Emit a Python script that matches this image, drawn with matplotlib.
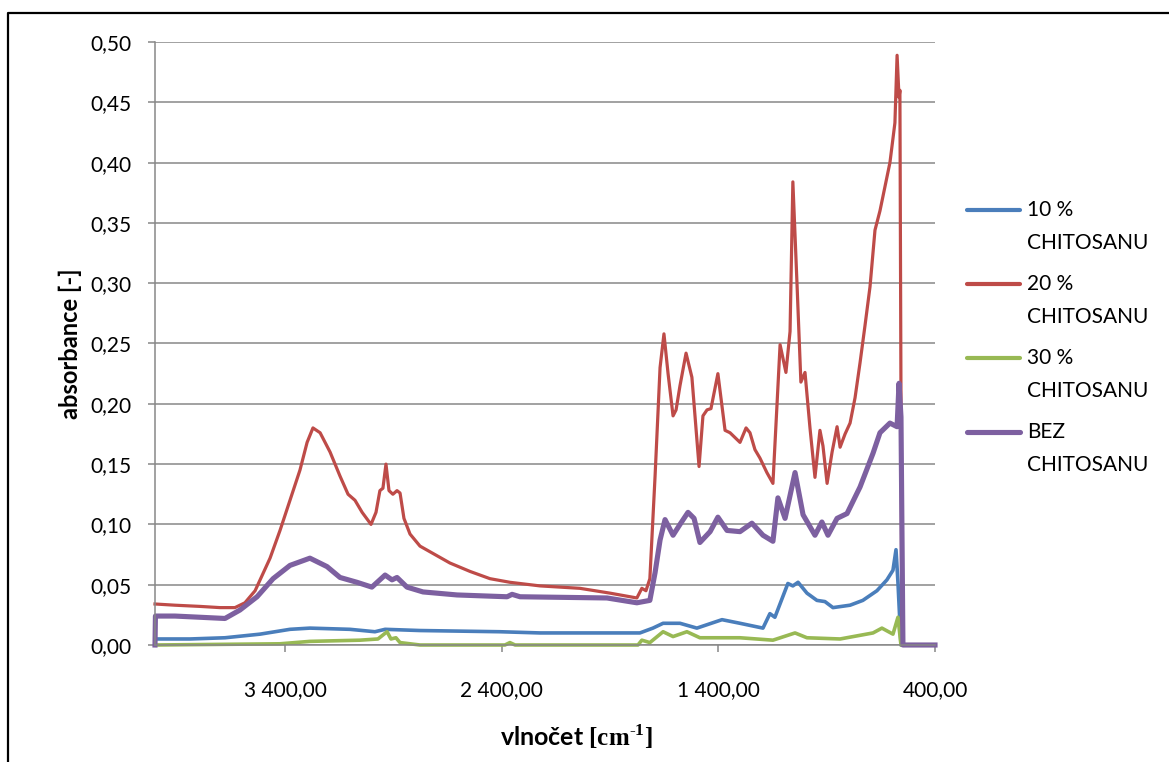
import matplotlib
matplotlib.use("Agg")
import matplotlib.pyplot as plt
from matplotlib.lines import Line2D
from matplotlib.ticker import FuncFormatter

plt.rcParams['font.family'] = ['Lato', 'DejaVu Sans']
plt.rcParams['mathtext.fontset'] = 'custom'
plt.rcParams['mathtext.rm'] = 'Liberation Serif'
plt.rcParams['mathtext.bf'] = 'Liberation Serif:bold'

# --- data (wavenumber cm-1 -> absorbance) ---
wn_10 = [4000, 3838, 3677, 3515, 3377, 3285, 3100, 2985, 2938, 2777, 2408, 2223,
         1762, 1702, 1655, 1577, 1499, 1383, 1300, 1194, 1162, 1139, 1079, 1056,
         1032, 991, 945, 908, 871, 792, 733, 668, 622, 594, 580, 571, 557, 400]
abs_10 = [0.005, 0.005, 0.006, 0.009, 0.013, 0.014, 0.013, 0.011, 0.013, 0.012, 0.011, 0.010,
          0.010, 0.014, 0.018, 0.018, 0.014, 0.021, 0.018, 0.014, 0.026, 0.023, 0.051, 0.049,
          0.052, 0.043, 0.037, 0.036, 0.031, 0.033, 0.037, 0.045, 0.054, 0.062, 0.079, 0.052, 0.0, 0.0]

wn_20 = [4000, 3908, 3792, 3700, 3631, 3585, 3538, 3469, 3423, 3377, 3331, 3298, 3271,
         3238, 3192, 3146, 3109, 3077, 3044, 3003, 2980, 2962, 2948, 2934, 2920, 2902,
         2883, 2869, 2851, 2823, 2777, 2708, 2639, 2546, 2454, 2362, 2223, 2039, 1900,
         1776, 1753, 1734, 1716, 1692, 1669, 1651, 1632, 1609, 1595, 1577, 1549, 1522,
         1489, 1471, 1452, 1434, 1402, 1369, 1346, 1323, 1300, 1272, 1254, 1231, 1208,
         1176, 1148, 1129, 1115, 1088, 1069, 1056, 1037, 1019, 1000, 977, 954, 931, 917,
         898, 875, 852, 838, 815, 792, 769, 746, 723, 700, 677, 654, 631, 608, 594, 585,
         575, 566, 562, 553, 400]
abs_20 = [0.034, 0.033, 0.032, 0.031, 0.031, 0.035, 0.045, 0.072, 0.095, 0.120, 0.145, 0.168, 0.180,
          0.176, 0.160, 0.140, 0.125, 0.120, 0.110, 0.100, 0.110, 0.128, 0.130, 0.150, 0.128, 0.125,
          0.128, 0.126, 0.105, 0.092, 0.082, 0.075, 0.068, 0.061, 0.055, 0.052, 0.049, 0.047, 0.043,
          0.039, 0.047, 0.045, 0.055, 0.140, 0.230, 0.258, 0.225, 0.190, 0.195, 0.215, 0.242, 0.222,
          0.148, 0.190, 0.195, 0.196, 0.225, 0.178, 0.176, 0.172, 0.168, 0.180, 0.176, 0.162, 0.155,
          0.143, 0.134, 0.200, 0.249, 0.226, 0.260, 0.384, 0.300, 0.218, 0.226, 0.180, 0.139, 0.178, 0.165,
          0.134, 0.160, 0.181, 0.164, 0.175, 0.184, 0.205, 0.234, 0.265, 0.297, 0.344, 0.360, 0.380, 0.400, 0.420, 0.433,
          0.489, 0.454, 0.460, 0.0, 0.0]

wn_30 = [4000, 3423, 3285, 3054, 2971, 2943, 2929, 2911, 2888, 2869, 2777, 2385, 2362, 2338,
         1771, 1753, 1716, 1655, 1609, 1545, 1485, 1300, 1148, 1046, 991, 838, 686, 645,
         594, 571, 557, 400]
abs_30 = [0.0, 0.001, 0.003, 0.004, 0.005, 0.009, 0.011, 0.005, 0.006, 0.002, 0.0, 0.0, 0.002, 0.0,
          0.0, 0.004, 0.002, 0.011, 0.007, 0.011, 0.006, 0.006, 0.004, 0.010, 0.006, 0.005, 0.010, 0.014,
          0.009, 0.023, 0.0, 0.0]

wn_bez = [4000, 3998, 3908, 3792, 3677, 3608, 3529, 3455, 3377, 3285, 3206, 3146, 3068, 2999,
          2938, 2906, 2883, 2837, 2763, 2606, 2375, 2352, 2315, 1914, 1776, 1716, 1692, 1669,
          1646, 1609, 1577, 1540, 1512, 1485, 1438, 1402, 1360, 1300, 1245, 1194, 1148, 1125,
          1092, 1046, 1009, 954, 922, 894, 852, 806, 746, 686, 654, 608, 575, 566, 557, 548, 400]
abs_bez = [0.0, 0.024, 0.024, 0.023, 0.022, 0.029, 0.040, 0.055, 0.066, 0.072, 0.065, 0.056, 0.052, 0.048,
           0.058, 0.054, 0.056, 0.048, 0.044, 0.0415, 0.040, 0.042, 0.040, 0.039, 0.035, 0.037, 0.060, 0.087,
           0.104, 0.091, 0.100, 0.110, 0.105, 0.085, 0.094, 0.106, 0.095, 0.094, 0.101, 0.091, 0.086, 0.122,
           0.105, 0.143, 0.108, 0.091, 0.102, 0.091, 0.105, 0.109, 0.131, 0.159, 0.176, 0.184, 0.181, 0.217, 0.189, 0.0, 0.0]

labels = ["10 %\nCHITOSANU", "20 %\nCHITOSANU", "30 %\nCHITOSANU", "BEZ\nCHITOSANU"]
colors = ["#4A7EBB", "#BE4B48", "#98B954", "#7D60A0"]
widths = [2.6, 2.3, 2.6, 3.7]
yticks = [0.0, 0.05, 0.10, 0.15, 0.20, 0.25, 0.30, 0.35, 0.40, 0.45, 0.50]
xticks = [3400, 2400, 1400, 400]

W, H = 1169, 762
fig = plt.figure(figsize=(W / 100, H / 100), dpi=100)
ax = fig.add_axes([155 / W, 117 / H, 780 / W, 603 / H])

series = [(wn_10, abs_10), (wn_20, abs_20), (wn_30, abs_30), (wn_bez, abs_bez)]
for (x, y), c, lw in zip(series, colors, widths):
    ax.plot(x, y, color=c, lw=lw, solid_joinstyle='round', clip_on=False)

ax.set_xlim(4000, 400)
ax.set_ylim(0, 0.5)
ax.set_yticks(yticks)
ax.set_xticks(xticks)
ax.yaxis.set_major_formatter(FuncFormatter(lambda v, p: f"{v:.2f}".replace(".", ",")))
ax.xaxis.set_major_formatter(FuncFormatter(
    lambda v, p: f"{v:,.2f}".replace(",", " ").replace(".", ",")))

grid_c = "#878787"
ax.grid(axis="y", color=grid_c, lw=1.1)
ax.set_axisbelow(True)
for s in ("top", "right"):
    ax.spines[s].set_visible(False)
for s in ("left", "bottom"):
    ax.spines[s].set_color(grid_c)
    ax.spines[s].set_linewidth(1.1)
ax.tick_params(axis="both", colors=grid_c, direction="out", length=5, width=1.1,
               labelcolor="black", labelsize=15)
ax.tick_params(axis="y", pad=12)
ax.tick_params(axis="x", pad=20)

ax.set_ylabel("absorbance [-]", fontsize=17, fontweight="bold", labelpad=6)
ax.set_xlabel(r"vlnočet $\mathbf{[cm}^{\mathbf{\text{-}1}}\mathbf{]}$", fontsize=18,
              fontweight="bold", labelpad=16)
ax.xaxis.label.set_x(0.54)

# legend drawn by hand: handle aligned with the first text line
leg_y = [210, 284, 358, 432]
for lab, c, lw, yp in zip(labels, colors, widths, leg_y):
    fy = 1 - yp / H
    fig.add_artist(Line2D([967 / W, 1020 / W], [fy, fy], color=c, lw=max(lw, 3.0),
                          solid_capstyle='round', transform=fig.transFigure))
    for i, part in enumerate(lab.split("\n")):
        fig.text(1027 / W, 1 - (yp + 33 * i) / H, part, fontsize=15, va="center", ha="left")

# chart border
fig.add_artist(Line2D([8 / W, 8 / W, 1.0], [0.0, 1 - 13 / H, 1 - 13 / H], color="black",
                      lw=1.6, transform=fig.transFigure))

fig.savefig("out.png", dpi=100)
